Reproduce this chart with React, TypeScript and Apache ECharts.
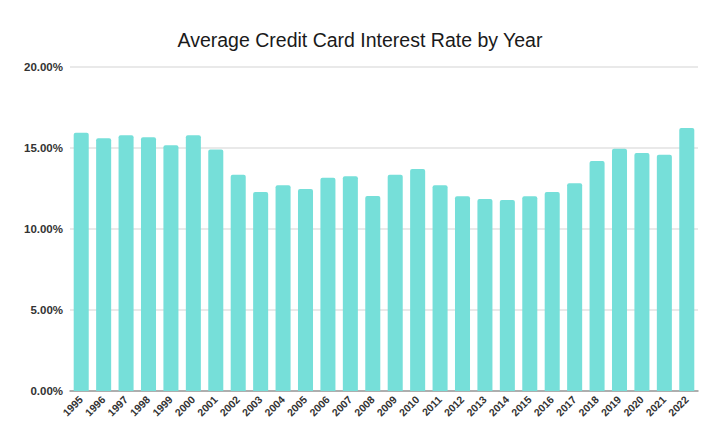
import React, { useEffect, useRef } from "react";
import * as echarts from "echarts";

const years = [
  "1995", "1996", "1997", "1998", "1999", "2000", "2001", "2002", "2003", "2004",
  "2005", "2006", "2007", "2008", "2009", "2010", "2011", "2012", "2013", "2014",
  "2015", "2016", "2017", "2018", "2019", "2020", "2021", "2022",
];
const rates = [
  15.94, 15.6, 15.78, 15.66, 15.17, 15.78, 14.9, 13.35, 12.28, 12.7,
  12.47, 13.17, 13.25, 12.04, 13.35, 13.7, 12.7, 12.02, 11.85, 11.79,
  12.02, 12.28, 12.82, 14.2, 14.96, 14.69, 14.59, 16.23,
];
const chartTitle = "Average Credit Card Interest Rate by Year";

export default function App() {
  const ref = useRef<HTMLDivElement>(null);
  useEffect(() => {
    if (!ref.current) return;
    const chart = echarts.init(ref.current, undefined, { renderer: "svg" });
    chart.setOption({
      animation: false,
      backgroundColor: "#ffffff",
      title: {
        text: chartTitle,
        left: "center",
        top: 25,
        textStyle: {
          fontFamily: "Liberation Sans, Arial, sans-serif",
          fontSize: 19.5,
          fontWeight: "normal",
          color: "#1a1a1a",
        },
      },
      grid: { left: 70, right: 22, top: 67, bottom: 53, containLabel: false },
      xAxis: {
        type: "category",
        data: years,
        axisLine: { lineStyle: { color: "#9a9a9a", width: 1.5 } },
        axisTick: { show: false },
        axisLabel: {
          rotate: 45,
          interval: 0,
          fontFamily: "Liberation Sans, Arial, sans-serif",
          fontSize: 10.5,
          fontWeight: "bold",
          color: "#333",
          margin: 7,
        },
      },
      yAxis: {
        type: "value",
        min: 0,
        max: 20,
        interval: 5,
        axisLine: { show: false },
        axisTick: { show: false },
        splitLine: { lineStyle: { color: "#e2e2e2", width: 1.5 } },
        axisLabel: {
          formatter: (v: number) => v.toFixed(2) + "%",
          fontFamily: "Liberation Sans, Arial, sans-serif",
          fontSize: 11.5,
          fontWeight: "bold",
          color: "#333",
          margin: 7,
        },
      },
      series: [
        {
          type: "bar",
          data: rates,
          barCategoryGap: "33%",
          itemStyle: { color: "#76DFD9", borderRadius: [2, 2, 0, 0] },
        },
      ],
    });
    return () => chart.dispose();
  }, []);
  return <div ref={ref} style={{ width: 720, height: 444, position: "absolute", left: 0, top: 0 }} />;
}
